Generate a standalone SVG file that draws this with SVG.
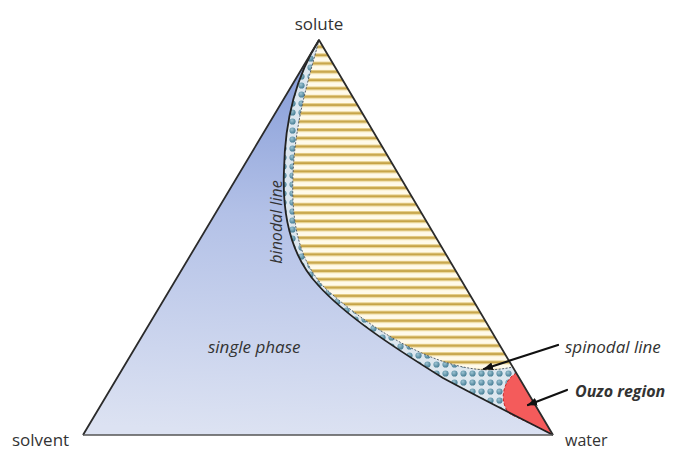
<svg xmlns="http://www.w3.org/2000/svg" width="675" height="452" viewBox="0 0 675 452">
  <defs>
    <linearGradient id="blueGrad" gradientUnits="userSpaceOnUse" x1="319" y1="40" x2="300" y2="435">
      <stop offset="0" stop-color="#7f97d6"/>
      <stop offset="0.45" stop-color="#b3c1e7"/>
      <stop offset="1" stop-color="#dce2f2"/>
    </linearGradient>
    <radialGradient id="dotGrad" cx="0.4" cy="0.35" r="0.7">
      <stop offset="0" stop-color="#9cc3d2"/>
      <stop offset="1" stop-color="#3f7890"/>
    </radialGradient>
    <pattern id="dots" patternUnits="userSpaceOnUse" width="9" height="9">
      <rect width="9" height="9" fill="#dde7ef"/>
      <circle cx="4.5" cy="4.5" r="3.1" fill="url(#dotGrad)"/>
    </pattern>
    <pattern id="stripes" patternUnits="userSpaceOnUse" width="20" height="8.3" y="45">
      <rect width="20" height="8.3" fill="#fffaea"/>
      <rect y="0" width="20" height="1" fill="#e6cf8a"/>
      <rect y="1" width="20" height="1.9" fill="#c6a346"/>
      <rect y="2.9" width="20" height="1" fill="#e6cf8a"/>
    </pattern>
    <marker id="arrow" markerWidth="10" markerHeight="8" refX="9" refY="4" orient="auto" markerUnits="userSpaceOnUse">
      <path d="M0,0 L10,4 L0,8 Z" fill="#111"/>
    </marker>
    <style>
      .lbl { font-family: "Open Sans", "Liberation Sans", sans-serif; fill: #333; }
      .it { font-style: italic; }
      .edge { fill: none; stroke: #2b2b2b; stroke-width: 1.8; stroke-linejoin: round; }
      .conn { fill: none; stroke: #111; stroke-width: 2.2; stroke-linecap: round; }
    </style>
  </defs>

  <rect width="675" height="452" fill="#ffffff"/>

  <g id="diagram-regions">
    <g id="single-phase-region">
      <path d="M319,40 L83,435 L553,435 Z" fill="url(#blueGrad)"/>
    </g>
    <g id="metastable-region">
      <path d="M319,40 C300,70 285,110 284,170 C282,215 290,255 318,285 C345,315 390,345 443,378 C480,398 520,418 553,435 L513,367 C503,369 490,371 475,369 C420,362 360,320 325,288 C300,262 291,225 293,175 C295,120 310,75 319,40 Z" fill="url(#dots)"/>
    </g>
    <g id="two-phase-region">
      <path d="M319,40 C310,75 295,120 293,175 C291,225 300,262 325,288 C360,320 420,362 475,369 C490,371 503,369 513,367 Z" fill="url(#stripes)"/>
    </g>
    <g id="ouzo-region">
      <path d="M516.5,373 C503,380 498,402 510,414 C525,421 540,428 553,435 Z" fill="#f45b5b"/>
      <path d="M516.5,373 C503,380 498,402 510,414 C525,421 540,428 553,435" fill="none" stroke="#c62828" stroke-width="1" stroke-dasharray="3,2"/>
    </g>
  </g>

  <g id="lines">
    <path id="spinodal-line" d="M319,40 C310,75 295,120 293,175 C291,225 300,262 325,288 C360,320 420,362 475,369 C490,371 503,369 513,367" fill="none" stroke="#4a5560" stroke-width="0.9" stroke-dasharray="2,1.5"/>
    <path id="binodal-line" d="M319,40 C300,70 285,110 284,170 C282,215 290,255 318,285 C345,315 390,345 443,378 C480,398 520,418 553,435" fill="none" stroke="#222" stroke-width="1.8"/>
    <path id="triangle" class="edge" d="M83,435 L319,40 L553,435"/>
    <line x1="83" y1="435" x2="553" y2="435" stroke="#555" stroke-width="1.5"/>
  </g>

  <g id="connectors">
    <line class="conn" x1="558" y1="345" x2="484" y2="369" marker-end="url(#arrow)"/>
    <line class="conn" x1="567" y1="390" x2="528" y2="405" marker-end="url(#arrow)"/>
  </g>

  <g id="node-solute"><text class="lbl" x="319" y="30" font-size="17" text-anchor="middle">solute</text></g>
  <g id="node-solvent"><text class="lbl" x="12" y="446" font-size="17">solvent</text></g>
  <g id="node-water"><text class="lbl" x="565" y="446" font-size="16">water</text></g>
  <g id="label-binodal"><text class="lbl it" transform="translate(282,222) rotate(-90)" font-size="16" text-anchor="middle">binodal line</text></g>
  <g id="label-single-phase"><text class="lbl it" x="208" y="353" font-size="17">single phase</text></g>
  <g id="label-spinodal"><text class="lbl it" x="565" y="353" font-size="17">spinodal line</text></g>
  <g id="label-ouzo"><text class="lbl it" x="575" y="397" font-size="16" font-weight="bold" fill="#1a1a1a">Ouzo region</text></g>
</svg>
